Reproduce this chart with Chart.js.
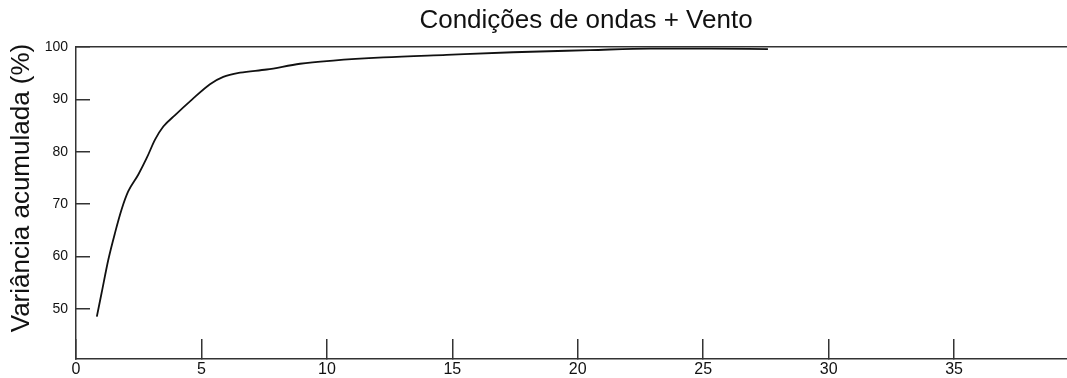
<!DOCTYPE html>
<html>
<head>
<meta charset="utf-8">
<script src="https://cdn.jsdelivr.net/npm/chart.js@4"></script>
<style>
  body { margin: 0; background: #fff; overflow: hidden; }
</style>
</head>
<body>
<canvas id="myChart" width="1067" height="378"></canvas>
<script>
// Number of components (x) and cumulative explained variance in % (y)
const components = [0.83, 1.02, 1.29, 1.55, 1.82, 2.08, 2.48, 2.82, 3.15, 3.48, 3.95, 4.61,
    5.34, 5.87, 6.54, 7.6, 8.93, 10.25, 12.25, 14.77, 17.42, 20.49, 22.88, 25.3, 27.58];
const cumVariance = [48.5, 53.0, 59.4, 64.4, 69.0, 72.4, 75.6, 78.8, 82.3, 84.8, 87.0, 89.9,
    92.9, 94.3, 95.1, 95.7, 96.8, 97.4, 98.0, 98.5, 99.0, 99.4, 99.7, 99.7, 99.6];

const chartTitle = 'Condições de ondas + Vento';
const yLabel = 'Variância acumulada (%)';

const xMin = 0, xMax = 39.5, xStep = 5;
const yMin = 40.4, yMax = 100, yStep = 10;

const axisColor = '#333';
const fontFamily = '"Liberation Sans", Arial, Helvetica, sans-serif';

// Title and y label are placed by hand, like the original figure
const figureText = {
    id: 'figureText',
    afterDraw(chart) {
        const ctx = chart.ctx;
        ctx.save();
        ctx.fillStyle = '#111';
        ctx.textAlign = 'center';
        ctx.textBaseline = 'middle';
        ctx.font = '26px ' + fontFamily;
        ctx.fillText(chartTitle, 586, 21);
        ctx.translate(22, 188);
        ctx.rotate(-Math.PI / 2);
        ctx.font = '26px ' + fontFamily;
        ctx.fillText(yLabel, 0, 0);
        ctx.restore();
    }
};

let ctx = document.getElementById('myChart').getContext('2d');
let myChart = new Chart(ctx, {
    type: 'line',
    data: {
        datasets: [{
            data: components.map((x, i) => ({ x: x, y: cumVariance[i] })),
            borderColor: '#111',
            borderWidth: 1.8,
            pointRadius: 0,
            fill: false,
            cubicInterpolationMode: 'monotone'
        }]
    },
    options: {
        responsive: false,
        animation: false,
        layout: { padding: { top: 47, left: 0, right: 0, bottom: 0 } },
        plugins: {
            legend: { display: false },
            tooltip: { enabled: false }
        },
        scales: {
            x: {
                type: 'linear',
                min: xMin,
                max: xMax,
                afterFit: function (scale) { scale.height = 19; },
                ticks: {
                    stepSize: xStep,
                    includeBounds: false,
                    padding: 21,
                    color: '#111',
                    font: { family: fontFamily, size: 16 },
                    maxRotation: 0
                },
                grid: {
                    drawOnChartArea: false,
                    tickLength: -20,
                    color: axisColor,
                    lineWidth: 1.5
                },
                border: { color: axisColor, width: 1.5 }
            },
            // top edge of the box
            x2: {
                type: 'linear',
                position: 'top',
                min: xMin,
                max: xMax,
                afterFit: function (scale) { scale.height = 0; },
                ticks: { display: false },
                grid: { display: false },
                border: { color: axisColor, width: 1.5 }
            },
            y: {
                min: yMin,
                max: yMax,
                afterFit: function (scale) {
                    // inward ticks: keep label padding from shrinking the plot
                    scale.width = 76;
                    scale.paddingTop = 0;
                    scale.paddingBottom = 0;
                },
                ticks: {
                    stepSize: yStep,
                    includeBounds: false,
                    padding: 22,
                    color: '#111',
                    font: { family: fontFamily, size: 14 }
                },
                grid: {
                    drawOnChartArea: false,
                    tickLength: -14,
                    color: axisColor,
                    lineWidth: 1.5
                },
                border: { color: axisColor, width: 1.5 }
            }
        }
    },
    plugins: [figureText]
});
</script>
</body>
</html>
